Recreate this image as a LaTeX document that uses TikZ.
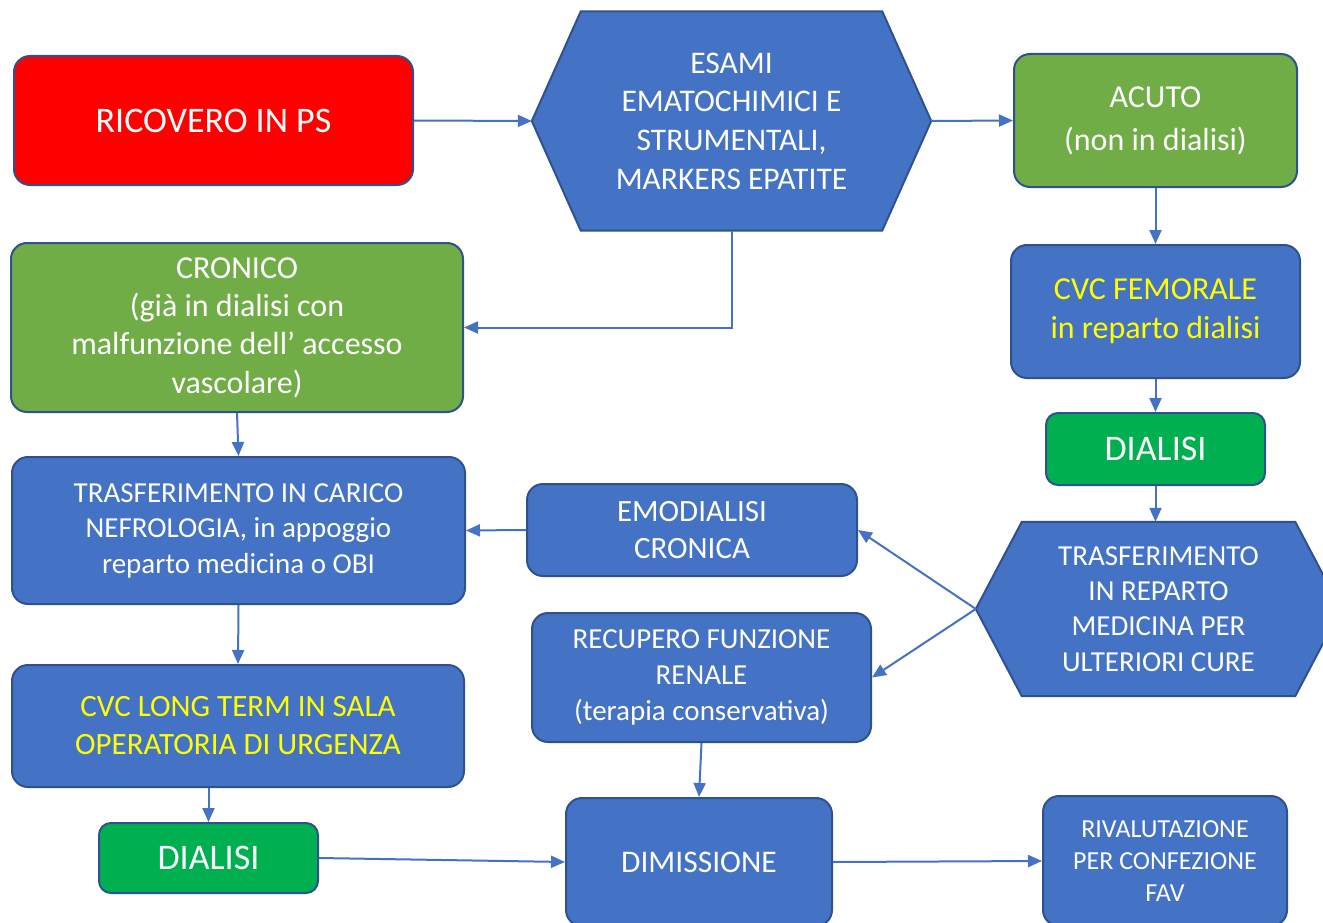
\documentclass[tikz,border=0pt]{standalone}
\usepackage{fontspec}
\setmainfont{Carlito}
\usetikzlibrary{arrows.meta,backgrounds}
\definecolor{bluef}{HTML}{4472C4}
\definecolor{blueb}{HTML}{2F528F}
\definecolor{greenA}{HTML}{70AD47}
\definecolor{greenB}{HTML}{00B050}
\definecolor{yel}{HTML}{FFFF00}
\newcommand\myfs[2]{\fontsize{#1}{#2}\selectfont}
\tikzset{
  box/.style={draw=blueb, line width=2pt, rounded corners=16pt, text=white, align=center, inner sep=0pt, fill=bluef},
  redbox/.style={box, fill=red},
  gbox/.style={box, fill=greenA},
  dbox/.style={box, fill=greenB, rounded corners=12pt},
  hexnode/.style={inner sep=0pt, text=white, align=center},
  hexfill/.style={fill=bluef, draw=blueb, line width=2pt, line join=miter},
  conn/.style={draw=bluef, line width=2pt, -{Triangle[length=14pt,width=12pt]}}
}
\begin{document}
\begin{tikzpicture}[x=1pt,y=-1pt]
\useasboundingbox (0,0) rectangle (1323,923);

\node[redbox, minimum width=399pt, minimum height=129pt, font={\myfs{36}{44}}] (ric) at (213.5,120.5) {RICOVERO IN PS};
\node[hexnode, minimum width=399pt, minimum height=219pt, font={\myfs{31.5}{38.7}}] (esami) at (731.5,121) {ESAMI\\EMATOCHIMICI E\\STRUMENTALI,\\MARKERS EPATITE};
\node[gbox, minimum width=283pt, minimum height=133pt, font={\myfs{32}{43}}] (acuto) at (1155.5,120.5) {ACUTO\\(non in dialisi)};
\node[box, text=yel, minimum width=289pt, minimum height=133pt, font={\myfs{32}{39}}] (cvcf) at (1155.5,311.5) {CVC FEMORALE\\in reparto dialisi};
\node[dbox, minimum width=219pt, minimum height=72pt, font={\myfs{36}{44}}] (dial1) at (1155.5,449) {DIALISI};
\node[hexnode, minimum width=365pt, minimum height=174pt, font={\myfs{29}{35.3}}] (trh) at (1158.5,609) {TRASFERIMENTO\\IN REPARTO\\MEDICINA PER\\ULTERIORI CURE};
\node[gbox, minimum width=452pt, minimum height=169pt, font={\myfs{32}{38.3}}] (cronico) at (237,327.5) {CRONICO\\(già in dialisi con\\malfunzione dell’ accesso\\vascolare)};
\node[box, minimum width=453pt, minimum height=147pt, font={\myfs{29}{35.5}}] (trc) at (238.5,530.5) {TRASFERIMENTO IN CARICO\\NEFROLOGIA, in appoggio\\reparto medicina o OBI};
\node[box, minimum width=330pt, minimum height=92pt, font={\myfs{31}{37}}] (emo) at (692,530) {EMODIALISI\\CRONICA};
\node[box, minimum width=339pt, minimum height=129pt, font={\myfs{29}{36}}] (rec) at (701.5,677.5) {RECUPERO FUNZIONE\\RENALE\\(terapia conservativa)};
\node[box, text=yel, minimum width=452pt, minimum height=122pt, font={\myfs{31}{38}}] (cvcl) at (238,726) {CVC LONG TERM IN SALA\\OPERATORIA DI URGENZA};
\node[dbox, minimum width=219pt, minimum height=70pt, font={\myfs{36}{44}}] (dial2) at (208.5,858) {DIALISI};
\node[box, minimum width=266pt, minimum height=128pt, font={\myfs{31.5}{38}}] (dim) at (699,862) {DIMISSIONE};
\node[box, minimum width=244pt, minimum height=130pt, font={\myfs{26}{32}}] (riv) at (1165,861) {RIVALUTAZIONE\\PER CONFEZIONE\\FAV};

\begin{scope}[on background layer]
\fill[white] (0,0) rectangle (1323,923);
\path[hexfill] (esami.west) -- ([xshift=49pt]esami.north west) -- ([xshift=-49pt]esami.north east) -- (esami.east) -- ([xshift=-49pt]esami.south east) -- ([xshift=49pt]esami.south west) -- cycle;
\path[hexfill] (trh.west) -- ([xshift=46pt]trh.north west) -- ([xshift=-46pt]trh.north east) -- (trh.east) -- ([xshift=-46pt]trh.south east) -- ([xshift=46pt]trh.south west) -- cycle;
\end{scope}

\draw[conn] (ric.east) -- (esami.west);
\draw[conn] (esami.east) -- (acuto.west);
\draw[conn] (esami.south) |- (cronico.east);
\draw[conn] (acuto.south) -- (cvcf.north);
\draw[conn] (cvcf.south) -- (dial1.north);
\draw[conn] (dial1.south) -- (dial1.south |- trh.north);
\draw[conn] (trh.west) -- (emo.east);
\draw[conn] (trh.west) -- (rec.east);
\draw[conn] (emo.west) -- (trc.east);
\draw[conn] (cronico.south) -- (trc.north);
\draw[conn] (trc.south) -- (cvcl.north);
\draw[conn] (dial2.north |- cvcl.south) -- (dial2.north);
\draw[conn] (dial2.east) -- (dim.west);
\draw[conn] (rec.south) -- (dim.north);
\draw[conn] (dim.east) -- (riv.west);
\end{tikzpicture}
\end{document}
